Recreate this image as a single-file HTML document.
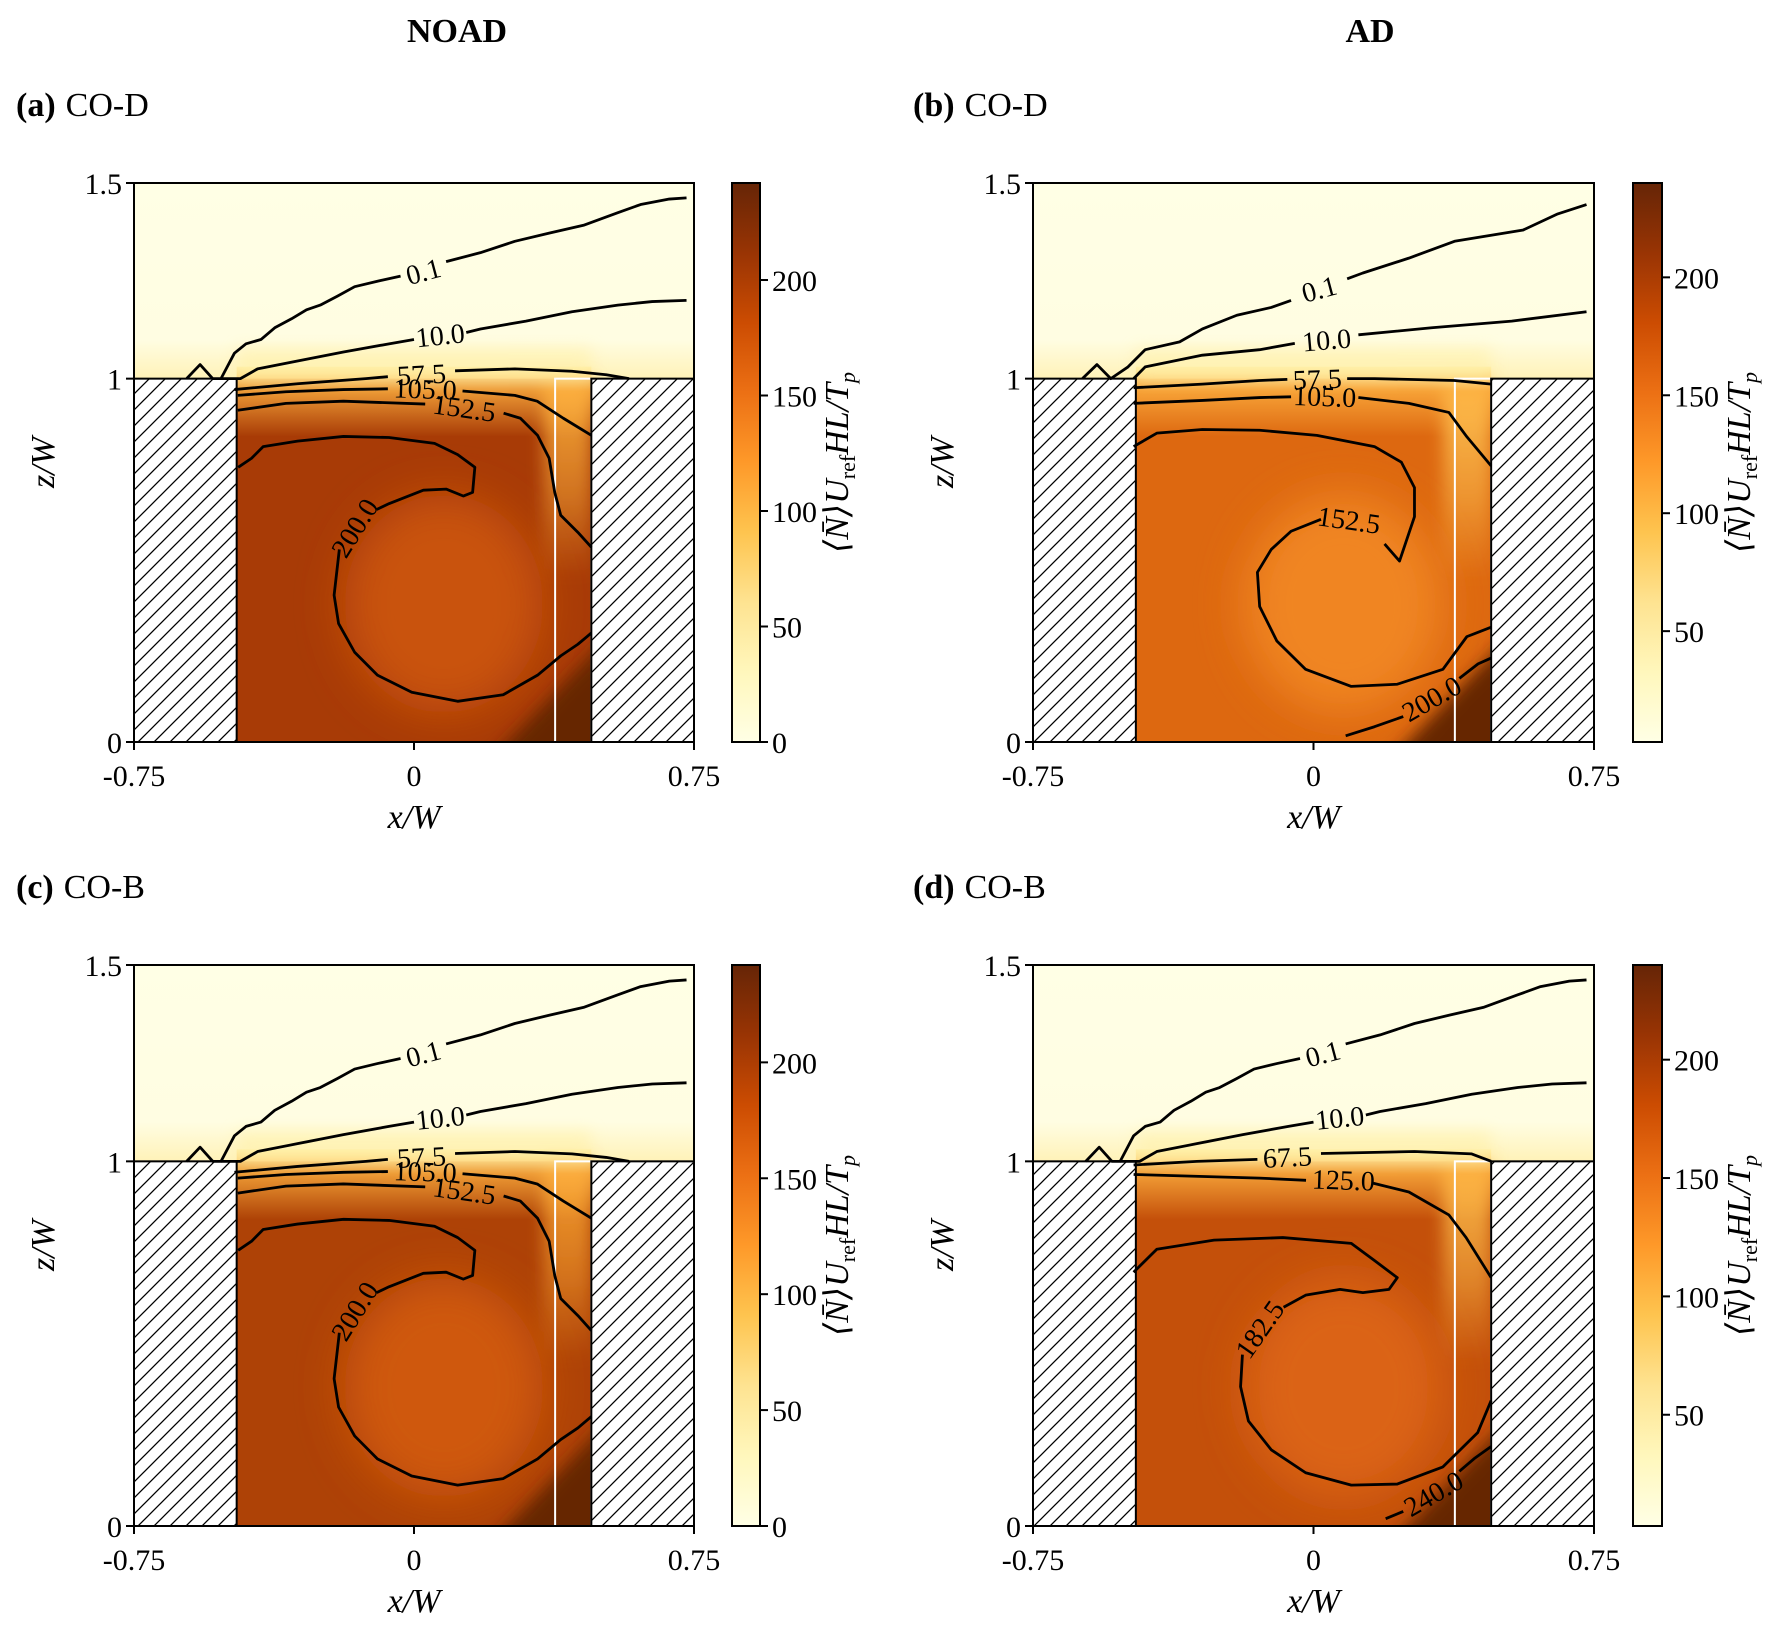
<!DOCTYPE html>
<html><head><meta charset="utf-8">
<style>
html,body{margin:0;padding:0;background:#fff;}
svg{display:block;font-family:"Liberation Serif","DejaVu Serif",serif;}
</style></head>
<body>
<svg id="fig" width="1785" height="1636" viewBox="0 0 1785 1636" xmlns="http://www.w3.org/2000/svg">
<defs>
<pattern id="hatch" patternUnits="userSpaceOnUse" width="16" height="16">
<rect width="16" height="16" fill="#fff"/>
<path d="M-4,4 L4,-4 M0,16 L16,0 M12,20 L20,12" stroke="#000" stroke-width="1.3"/>
</pattern>
<linearGradient id="cmap" x1="0" y1="1" x2="0" y2="0">
<stop offset="0" stop-color="#ffffe5"/><stop offset="0.125" stop-color="#fff7bc"/>
<stop offset="0.25" stop-color="#fee391"/><stop offset="0.375" stop-color="#fec44f"/>
<stop offset="0.5" stop-color="#fe9929"/><stop offset="0.625" stop-color="#ec7014"/>
<stop offset="0.75" stop-color="#cc4c02"/><stop offset="0.875" stop-color="#993404"/>
<stop offset="1" stop-color="#662506"/>
</linearGradient>
<linearGradient id="sky" x1="0" y1="0" x2="0" y2="1">
<stop offset="0" stop-color="#ffffe5"/><stop offset="0.8" stop-color="#fffde2"/><stop offset="1" stop-color="#fff2b8"/>
</linearGradient>
<filter id="blur20" x="-50%" y="-50%" width="200%" height="200%"><feGaussianBlur stdDeviation="22"/></filter>
<filter id="blur8" x="-50%" y="-50%" width="200%" height="200%"><feGaussianBlur stdDeviation="8"/></filter>
</defs>
</svg>
<script>
// ---- data (x/W, z/W) ----
const xTicks = [-0.75, 0, 0.75];
const xTickLabels = ["-0.75", "0", "0.75"];
const zTicks = [0, 1, 1.5];
const zTickLabels = ["0", "1", "1.5"];
const cbTicksA = [0, 50, 100, 150, 200];
const cbTicksB = [50, 100, 150, 200];
const cbRangeA = [0, 242];
const cbRangeB = [3, 240];
const buildingEdge = 0.475;
const boxLeft = 0.378;

const cA_01 = [[-0.609,1],[-0.573,1.036],[-0.539,1],[-0.517,1],[-0.481,1.065],[-0.45,1.089],[-0.41,1.10],[-0.373,1.13],[-0.328,1.153],[-0.288,1.176],[-0.251,1.188],[-0.205,1.211],[-0.159,1.235],[-0.098,1.249],[-0.036,1.262]];
const cA_01b = [[0.086,1.299],[0.178,1.322],[0.27,1.351],[0.362,1.372],[0.454,1.392],[0.546,1.424],[0.607,1.445],[0.684,1.459],[0.73,1.462]];
const cA_10 = [[-0.517,1.0],[-0.465,1.0],[-0.419,1.025],[-0.312,1.045],[-0.189,1.068],[-0.067,1.089],[0.0,1.1]];
const cA_10b = [[0.14,1.118],[0.178,1.127],[0.30,1.147],[0.423,1.171],[0.546,1.188],[0.638,1.197],[0.73,1.2]];
const cA_57 = [[-0.481,0.97],[-0.312,0.986],[-0.129,1.0],[-0.07,1.005]];
const cA_57b = [[0.11,1.02],[0.27,1.025],[0.423,1.019],[0.515,1.01],[0.576,1.0]];
const cA_105 = [[-0.472,0.954],[-0.343,0.964],[-0.189,0.97],[-0.07,0.972]];
const cA_105b = [[0.13,0.966],[0.27,0.954],[0.33,0.938],[0.40,0.891],[0.475,0.844]];
const cA_152 = [[-0.472,0.913],[-0.343,0.932],[-0.189,0.938],[0.03,0.93]];
const cA_152b = [[0.24,0.905],[0.285,0.891],[0.331,0.844],[0.362,0.781],[0.377,0.687],[0.393,0.624],[0.439,0.577],[0.475,0.536]];
const cA_200 = [[-0.471,0.756],[-0.435,0.781],[-0.404,0.813],[-0.312,0.828],[-0.189,0.841],[-0.067,0.838],[0.055,0.822],[0.117,0.791],[0.163,0.756],[0.157,0.687],[0.132,0.677],[0.086,0.696],[0.025,0.693],[-0.067,0.656],[-0.1,0.64]];
const cA_200b = [[-0.2,0.53],[-0.214,0.404],[-0.202,0.326],[-0.159,0.247],[-0.098,0.184],[-0.006,0.137],[0.117,0.112],[0.239,0.130],[0.331,0.184],[0.393,0.237],[0.439,0.269],[0.475,0.300]];

const cB_01 = [[-0.618,1],[-0.579,1.036],[-0.542,1],[-0.496,1.03],[-0.45,1.074],[-0.358,1.094],[-0.297,1.127],[-0.205,1.162],[-0.113,1.182],[-0.06,1.2]];
const cB_01b = [[0.09,1.255],[0.132,1.27],[0.255,1.308],[0.377,1.351],[0.561,1.38],[0.653,1.421],[0.73,1.445]];
const cB_10 = [[-0.481,1.0],[-0.45,1.03],[-0.297,1.06],[-0.144,1.074],[-0.05,1.09]];
const cB_10b = [[0.12,1.112],[0.316,1.13],[0.53,1.147],[0.73,1.171]];
const cB_57 = [[-0.481,0.975],[-0.297,0.985],[-0.144,0.995],[-0.07,0.998]];
const cB_57b = [[0.09,1.0],[0.163,1.0],[0.377,0.995],[0.475,0.985]];
const cB_105 = [[-0.481,0.932],[-0.297,0.94],[-0.144,0.948],[-0.06,0.95]];
const cB_105b = [[0.12,0.948],[0.255,0.932],[0.362,0.907],[0.41,0.84],[0.475,0.76]];
const cB_152 = [[-0.481,0.813],[-0.419,0.85],[-0.297,0.86],[-0.144,0.858],[0.009,0.844],[0.163,0.813],[0.235,0.77],[0.27,0.70],[0.27,0.62],[0.23,0.498],[0.19,0.545]];
const cB_152b = [[0.02,0.613],[-0.06,0.58],[-0.113,0.53],[-0.15,0.467],[-0.144,0.373],[-0.098,0.278],[-0.021,0.2],[0.101,0.153],[0.224,0.159],[0.346,0.2],[0.41,0.29],[0.475,0.316]];
const cB_200 = [[0.086,0.017],[0.163,0.042],[0.24,0.07]];
const cB_200b = [[0.39,0.175],[0.44,0.215],[0.475,0.231]];

const cC_01 = cA_01, cC_01b = cA_01b, cC_10 = cA_10, cC_10b = cA_10b;
const cC_57 = cA_57, cC_57b = cA_57b, cC_105 = cA_105, cC_105b = cA_105b;
const cC_152 = cA_152, cC_152b = cA_152b, cC_200 = cA_200, cC_200b = cA_200b;

const cD_01 = cA_01, cD_01b = cA_01b, cD_10 = cA_10, cD_10b = cA_10b;
const cD_67 = [[-0.481,0.99],[-0.312,1.0],[-0.15,1.005]];
const cD_67b = [[0.02,1.02],[0.27,1.025],[0.423,1.019],[0.475,1.0]];
const cD_125 = [[-0.481,0.964],[-0.144,0.954],[-0.02,0.948]];
const cD_125b = [[0.16,0.94],[0.255,0.916],[0.362,0.853],[0.408,0.791],[0.475,0.681]];
const cD_182 = [[-0.481,0.696],[-0.419,0.759],[-0.266,0.784],[-0.082,0.791],[0.101,0.775],[0.163,0.728],[0.224,0.681],[0.202,0.649],[0.132,0.64],[0.071,0.649],[-0.021,0.633],[-0.08,0.6]];
const cD_182b = [[-0.19,0.47],[-0.195,0.382],[-0.174,0.288],[-0.113,0.209],[-0.021,0.146],[0.101,0.112],[0.224,0.115],[0.346,0.162],[0.439,0.256],[0.475,0.344]];
const cD_240 = [[0.193,0.02],[0.24,0.04]];
const cD_240b = [[0.39,0.15],[0.43,0.185],[0.475,0.218]];

// ---- layout ----
const panels = [
 {key:'a', L:134, T:183, W:560, H:559, cbL:732, cbW:28, cbT:cbTicksA, cbR:cbRangeA, title:'(a)', name:'CO-D', tx:16, ty:116,
  base:'#a83b06', center:'#c9520c', stripTop:'#f7a838', corner:'#662506',
  lines:[[cA_01,cA_01b],[cA_10,cA_10b],[cA_57,cA_57b],[cA_105,cA_105b],[cA_152,cA_152b],[cA_200,cA_200b]],
  labels:[['0.1',0.025,1.275,-15],['10.0',0.07,1.112,-6],['57.5',0.02,1.012,-3],['105.0',0.03,0.973,2],['152.5',0.135,0.92,8],['200.0',-0.16,0.59,-58]]},
 {key:'b', L:1033, T:183, W:561, H:559, cbL:1633, cbW:29, cbT:cbTicksB, cbR:cbRangeB, title:'(b)', name:'CO-D', tx:913, ty:116,
  base:'#dd6810', center:'#f08520', stripTop:'#fdc050', corner:'#662506',
  lines:[[cB_01,cB_01b],[cB_10,cB_10b],[cB_57,cB_57b],[cB_105,cB_105b],[cB_152,cB_152b],[cB_200,cB_200b]],
  labels:[['0.1',0.015,1.23,-15],['10.0',0.035,1.1,-5],['57.5',0.01,1.0,-2],['105.0',0.03,0.952,2],['152.5',0.095,0.612,8],['200.0',0.315,0.12,-30]]},
 {key:'c', L:134, T:965, W:560, H:561, cbL:732, cbW:28, cbT:cbTicksA, cbR:cbRangeA, title:'(c)', name:'CO-B', tx:16, ty:898,
  base:'#ae4206', center:'#cf580e', stripTop:'#f6a030', corner:'#662506',
  lines:[[cC_01,cC_01b],[cC_10,cC_10b],[cC_57,cC_57b],[cC_105,cC_105b],[cC_152,cC_152b],[cC_200,cC_200b]],
  labels:[['0.1',0.025,1.275,-15],['10.0',0.07,1.112,-6],['57.5',0.02,1.012,-3],['105.0',0.03,0.973,2],['152.5',0.135,0.92,8],['200.0',-0.16,0.59,-58]]},
 {key:'d', L:1033, T:965, W:561, H:561, cbL:1633, cbW:29, cbT:cbTicksB, cbR:cbRangeB, title:'(d)', name:'CO-B', tx:913, ty:898,
  base:'#c4500a', center:'#db6414', stripTop:'#fbb848', corner:'#662506',
  lines:[[cD_01,cD_01b],[cD_10,cD_10b],[cD_67,cD_67b],[cD_125,cD_125b],[cD_182,cD_182b],[cD_240,cD_240b]],
  labels:[['0.1',0.025,1.275,-15],['10.0',0.07,1.112,-6],['67.5',-0.07,1.012,-3],['125.0',0.08,0.95,2],['182.5',-0.145,0.54,-55],['240.0',0.32,0.09,-30]]}
];

const NS='http://www.w3.org/2000/svg';
const svg=document.getElementById('fig');
const defs=svg.querySelector('defs');
function mk(tag,attrs,parent){const e=document.createElementNS(NS,tag);for(const k in attrs)e.setAttribute(k,attrs[k]);(parent||svg).appendChild(e);return e;}
function txt(s,x,y,size,parent,extra){const t=mk('text',Object.assign({x:x,y:y,'font-size':size,fill:'#000'},extra||{}),parent);t.textContent=s;return t;}

const t1=txt('NOAD',457,42,34,svg,{'text-anchor':'middle','font-weight':'bold'});


const t2=txt('AD',1370,42,34,svg,{'text-anchor':'middle','font-weight':'bold'});



panels.forEach(p=>{
  const B=p.T+p.H, Y1=B-p.H*0.65;
  const sx=x=>p.L+(x+0.75)/1.5*p.W;
  const sy=z=>z<=1? B-z*(B-Y1) : Y1-(z-1)/0.5*(Y1-p.T);
  const g=mk('g',{});
  
  

  const tl=mk('text',{x:p.tx,y:p.ty,'font-size':34},g);
  
  
  const tb=mk('tspan',{'font-weight':'bold'},tl); tb.textContent=p.title;
  const tn=mk('tspan',{dx:10},tl); tn.textContent=p.name;

  const clipId='clip'+p.key;
  const cp=mk('clipPath',{id:clipId},defs);
  mk('rect',{x:sx(-buildingEdge),y:p.T,width:sx(buildingEdge)-sx(-buildingEdge),height:p.H},cp);
  mk('rect',{x:p.L,y:p.T,width:p.W,height:Y1-p.T},cp);

  const field=mk('g',{'clip-path':'url(#'+clipId+')'},g);
  
  
  mk('rect',{x:p.L,y:p.T,width:p.W,height:Y1-p.T,fill:'url(#sky)'},field);
  const cx0=sx(-buildingEdge), cw=sx(buildingEdge)-cx0;
  mk('rect',{x:cx0,y:Y1,width:cw,height:B-Y1,fill:p.base},field);
  mk('ellipse',{cx:sx(0.08),cy:sy(0.38),rx:cw*0.28,ry:(B-Y1)*0.3,fill:p.center,filter:'url(#blur20)'},field);
  const sg='strip'+p.key;
  const sgr=mk('linearGradient',{id:sg,x1:0,y1:0,x2:0,y2:1},defs);
  mk('stop',{offset:0,'stop-color':p.stripTop,'stop-opacity':1},sgr);
  mk('stop',{offset:0.6,'stop-color':p.stripTop,'stop-opacity':0.5},sgr);
  mk('stop',{offset:1,'stop-color':p.stripTop,'stop-opacity':0},sgr);
  mk('rect',{x:sx(boxLeft-0.03),y:Y1,width:sx(buildingEdge)-sx(boxLeft-0.03),height:(B-Y1)*0.55,fill:'url(#'+sg+')',filter:'url(#blur8)'},field);
  mk('path',{d:`M${sx(0.2)},${B+20} L${sx(0.55)},${sy(0.32)} L${sx(0.55)},${B+20} Z`,fill:p.corner,filter:'url(#blur8)'},field);
  const lg='top'+p.key;
  const lgr=mk('linearGradient',{id:lg,x1:0,y1:0,x2:0,y2:1},defs);
  mk('stop',{offset:0,'stop-color':'#fff0a8','stop-opacity':1},lgr);
  mk('stop',{offset:0.35,'stop-color':'#fdb040','stop-opacity':0.8},lgr);
  mk('stop',{offset:1,'stop-color':'#fdb040','stop-opacity':0},lgr);
  mk('rect',{x:cx0,y:Y1-12,width:cw,height:70,fill:'url(#'+lg+')'},field);
  mk('rect',{x:cx0,y:Y1-30,width:cw,height:30,fill:'#fff0a8',opacity:0.6,filter:'url(#blur8)'},field);

  const wb=mk('rect',{x:sx(boxLeft),y:Y1,width:sx(buildingEdge)-sx(boxLeft),height:B-Y1,fill:'none',stroke:'#fff','stroke-width':2},g);
  
  

  const b1=mk('rect',{x:p.L,y:Y1,width:sx(-buildingEdge)-p.L,height:B-Y1,fill:'url(#hatch)',stroke:'#000','stroke-width':2},g);
  
  
  const b2=mk('rect',{x:sx(buildingEdge),y:Y1,width:p.L+p.W-sx(buildingEdge),height:B-Y1,fill:'url(#hatch)',stroke:'#000','stroke-width':2},g);
  
  

  p.lines.forEach((pair,i)=>{
    pair.forEach(arr=>{
      const pl=mk('polyline',{points:arr.map(q=>sx(q[0])+','+sy(q[1])).join(' '),fill:'none',stroke:'#000','stroke-width':2.8,'stroke-linejoin':'round'},g);
      
      
    });
  });
  p.labels.forEach(l=>{
    const x=sx(l[1]),y=sy(l[2]);
    const t=txt(l[0],x,y+10,28,g,{'text-anchor':'middle',transform:`rotate(${l[3]} ${x} ${y})`});
    
    
  });

  const fr=mk('rect',{x:p.L,y:p.T,width:p.W,height:p.H,fill:'none',stroke:'#000','stroke-width':2},g);
  
  

  xTicks.forEach((v,i)=>{
    mk('line',{x1:sx(v),x2:sx(v),y1:B,y2:B+8,stroke:'#000','stroke-width':2},g);
    const t=txt(xTickLabels[i],sx(v),B+44,30,g,{'text-anchor':'middle'});
    
    
  });
  zTicks.forEach((v,i)=>{
    mk('line',{x1:p.L-8,x2:p.L,y1:sy(v),y2:sy(v),stroke:'#000','stroke-width':2},g);
    const t=txt(zTickLabels[i],p.L-12,sy(v)+11,30,g,{'text-anchor':'end'});
    
    
  });
  const xl=mk('text',{x:p.L+p.W/2,y:B+86,'font-size':34,'text-anchor':'middle','font-style':'italic'},g);
  xl.textContent='x/W';
  
  
  const yx=p.L-80, yy=p.T+p.H/2;
  const yl=mk('text',{x:yx,y:yy,'font-size':34,'text-anchor':'middle','font-style':'italic',transform:`rotate(-90 ${yx} ${yy})`},g);
  yl.textContent='z/W';
  
  

  const cb=mk('rect',{x:p.cbL,y:p.T,width:p.cbW,height:p.H,fill:'url(#cmap)',stroke:'#000','stroke-width':2},g);
  
  
  const cy=v=>B-(v-p.cbR[0])/(p.cbR[1]-p.cbR[0])*p.H;
  p.cbT.forEach(v=>{
    mk('line',{x1:p.cbL+p.cbW,x2:p.cbL+p.cbW+8,y1:cy(v),y2:cy(v),stroke:'#000','stroke-width':2},g);
    const t=txt(String(v),p.cbL+p.cbW+12,cy(v)+11,30,g);
    
    
  });
  const lx=p.cbL+p.cbW+88, ly=p.T+p.H/2;
  const cl=mk('text',{x:lx,y:ly,'font-size':34,'text-anchor':'middle','font-style':'italic',transform:`rotate(-90 ${lx} ${ly})`},g);
  
  
  const s1=mk('tspan',{},cl); s1.textContent='⟨N̄⟩U';
  const s2=mk('tspan',{'font-size':22,dy:7,'font-style':'normal'},cl); s2.textContent='ref';
  const s3=mk('tspan',{dy:-7},cl); s3.textContent='HL/T';
  const s4=mk('tspan',{'font-size':22,dy:7},cl); s4.textContent='p';
});
</script>
</body></html>
